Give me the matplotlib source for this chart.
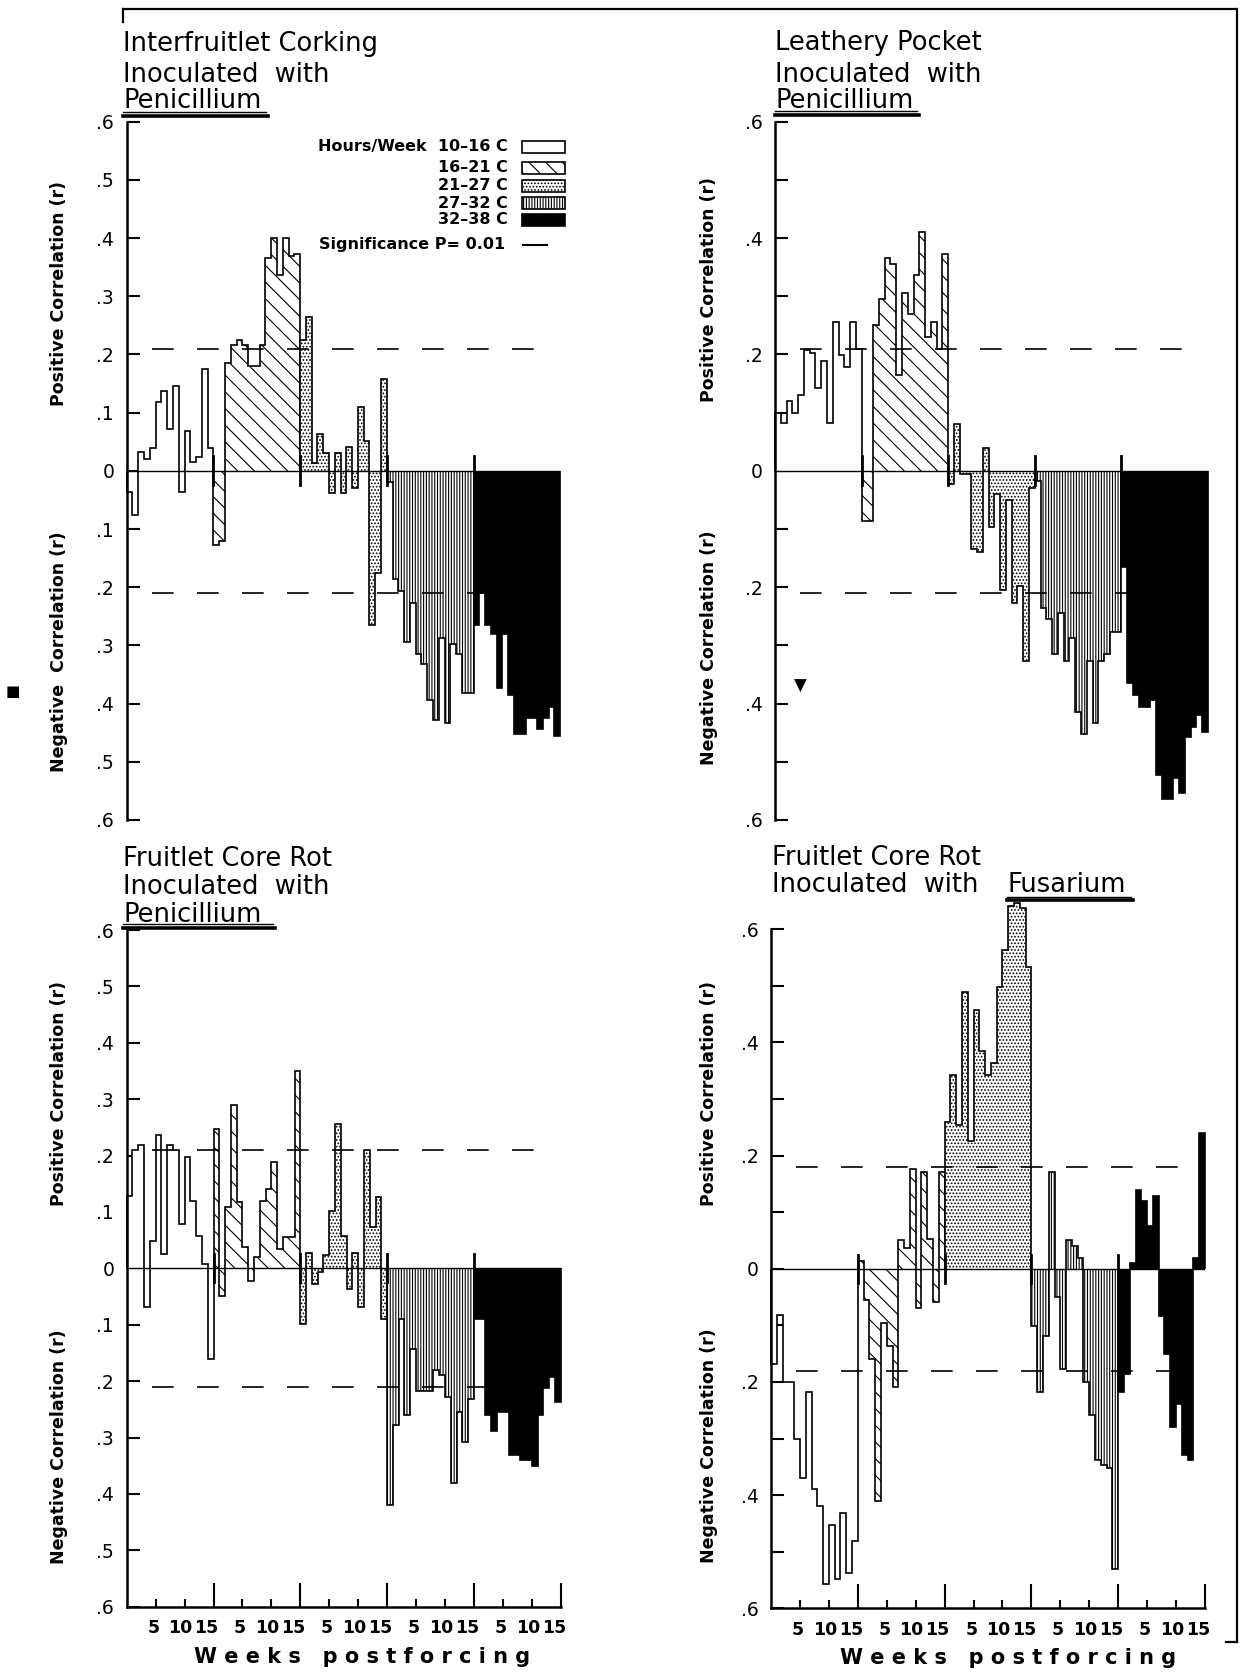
import numpy as np
import matplotlib
matplotlib.use("Agg")
import matplotlib.pyplot as plt
from matplotlib.patches import Rectangle
from matplotlib.lines import Line2D

# ---------------- data ----------------
temperature_classes = ["10\u201316 C", "16\u201321 C", "21\u201327 C", "27\u201332 C", "32\u201338 C"]
weeks_per_class = 15
week_tick_labels = ["5", "10", "15"]
y_ticks = [-0.6, -0.5, -0.4, -0.3, -0.2, -0.1, 0.0, 0.1, 0.2, 0.3, 0.4, 0.5, 0.6]

# Interfruitlet Corking, Penicillium
icp_10_16 = [-0.037, -0.076, 0.032, 0.02, 0.04, 0.118, 0.138, 0.072, 0.145, -0.037, 0.068, 0.015, 0.023, 0.175, 0.04]
icp_16_21 = [-0.128, -0.12, 0.185, 0.216, 0.225, 0.216, 0.18, 0.18, 0.216, 0.365, 0.40, 0.336, 0.40, 0.37, 0.373]
icp_21_27 = [0.225, 0.265, 0.014, 0.063, 0.031, -0.038, 0.03, -0.038, 0.041, -0.029, 0.109, 0.052, -0.265, -0.175, 0.157]
icp_27_32 = [-0.02, -0.186, -0.207, -0.294, -0.227, -0.315, -0.332, -0.393, -0.428, -0.288, -0.434, -0.297, -0.315, -0.382, -0.382]
icp_32_38 = [-0.265, -0.21, -0.265, -0.28, -0.373, -0.28, -0.385, -0.452, -0.452, -0.425, -0.425, -0.443, -0.425, -0.405, -0.455]
icp_sig = 0.21

# Leathery Pocket, Penicillium
lpp_10_16 = [0.10, 0.082, 0.12, 0.10, 0.131, 0.208, 0.202, 0.142, 0.188, 0.083, 0.256, 0.199, 0.179, 0.255, 0.209]
lpp_16_21 = [-0.086, -0.086, 0.25, 0.296, 0.365, 0.356, 0.165, 0.305, 0.27, 0.336, 0.41, 0.23, 0.256, 0.21, 0.373]
lpp_21_27 = [-0.023, 0.08, -0.006, -0.006, -0.134, -0.14, 0.04, -0.096, -0.04, -0.204, -0.05, -0.227, -0.198, -0.326, -0.03]
lpp_27_32 = [-0.017, -0.236, -0.254, -0.315, -0.245, -0.326, -0.288, -0.414, -0.452, -0.326, -0.434, -0.326, -0.315, -0.277, -0.277]
lpp_32_38 = [-0.165, -0.364, -0.385, -0.405, -0.405, -0.393, -0.522, -0.564, -0.564, -0.527, -0.553, -0.457, -0.44, -0.42, -0.448]
lpp_sig = 0.21

# Fruitlet Core Rot, Penicillium
fcp_10_16 = [0.129, 0.209, 0.219, -0.069, 0.049, 0.237, 0.025, 0.218, 0.209, 0.079, 0.197, 0.12, 0.058, 0.008, -0.16]
fcp_16_21 = [0.247, -0.049, 0.108, 0.289, 0.117, 0.037, -0.022, 0.02, 0.12, 0.141, 0.188, 0.034, 0.055, 0.055, 0.35]
fcp_21_27 = [-0.099, 0.028, -0.028, -0.007, 0.024, 0.102, 0.256, 0.058, -0.037, 0.028, -0.069, 0.209, 0.073, 0.126, -0.09]
fcp_27_32 = [-0.42, -0.278, -0.09, -0.26, -0.143, -0.218, -0.218, -0.218, -0.181, -0.19, -0.228, -0.38, -0.255, -0.308, -0.231]
fcp_32_38 = [-0.09, -0.09, -0.26, -0.288, -0.255, -0.255, -0.331, -0.331, -0.34, -0.34, -0.35, -0.26, -0.213, -0.193, -0.237]
fcp_sig = 0.21

# Fruitlet Core Rot, Fusarium
fcf_10_16 = [-0.168, -0.081, -0.2, -0.2, -0.30, -0.37, -0.218, -0.39, -0.42, -0.557, -0.452, -0.548, -0.431, -0.537, -0.481]
fcf_16_21 = [0.013, -0.055, -0.16, -0.411, -0.095, -0.136, -0.209, 0.051, 0.037, 0.177, -0.07, 0.171, 0.052, -0.058, 0.171]
fcf_21_27 = [0.26, 0.343, 0.254, 0.49, 0.225, 0.457, 0.385, 0.343, 0.364, 0.498, 0.564, 0.641, 0.647, 0.638, 0.534]
fcf_27_32 = [-0.101, -0.218, -0.119, 0.171, -0.05, -0.177, 0.051, 0.04, 0.019, -0.2, -0.259, -0.338, -0.347, -0.352, -0.531]
fcf_32_38 = [-0.218, -0.186, 0.01, 0.14, 0.12, 0.076, 0.129, -0.084, -0.151, -0.279, -0.239, -0.329, -0.338, 0.019, 0.24]
fcf_sig = 0.18

# ---------------- figure ----------------
W, H, DPI = 1248, 1672, 100
plt.rcParams["font.family"] = ["DejaVu Sans"]
plt.rcParams["hatch.linewidth"] = 0.8
fig = plt.figure(figsize=(W / DPI, H / DPI), dpi=DPI)

def ftext(x, y, s, **kw):
    return fig.text(x / W, 1 - y / H, s, **kw)

def fline(xs, ys, **kw):
    fig.add_artist(Line2D([x / W for x in xs], [1 - y / H for y in ys], **kw))

def rect(x0, ytop, x1, ybot):
    return [x0 / W, 1 - ybot / H, (x1 - x0) / W, (ybot - ytop) / H]

HATCHES = [None, "\\\\", ".....", "||||||", None]
FACES = ["white", "white", "white", "white", "black"]

panels = [
    dict(groups=[icp_10_16, icp_16_21, icp_21_27, icp_27_32, icp_32_38], sig=icp_sig,
         box=(126.7, 121.7, 560.2, 820), every_label=True, xaxis=False),
    dict(groups=[lpp_10_16, lpp_16_21, lpp_21_27, lpp_27_32, lpp_32_38], sig=lpp_sig,
         box=(775, 121.7, 1208, 820), every_label=False, xaxis=False),
    dict(groups=[fcp_10_16, fcp_16_21, fcp_21_27, fcp_27_32, fcp_32_38], sig=fcp_sig,
         box=(126.7, 930, 560.7, 1606.7), every_label=True, xaxis=True),
    dict(groups=[fcf_10_16, fcf_16_21, fcf_21_27, fcf_27_32, fcf_32_38], sig=fcf_sig,
         box=(771, 929.3, 1205, 1608.3), every_label=False, xaxis=True),
]

total = weeks_per_class * len(temperature_classes)

def ylab(v):
    if abs(v) < 1e-9:
        return "0"
    return "." + str(int(round(abs(v) * 10)))

for p in panels:
    ax = fig.add_axes(rect(*p["box"]))
    ax.set_xlim(0, total)
    ax.set_ylim(-0.6, 0.6)
    for s in ["top", "right"]:
        ax.spines[s].set_visible(False)
    ax.spines["left"].set_linewidth(1.8)
    for g, vals in enumerate(p["groups"]):
        edges = np.arange(len(vals) + 1) + g * weeks_per_class
        ax.stairs(vals, edges, baseline=0, fill=True, facecolor=FACES[g],
                  edgecolor="black", hatch=HATCHES[g], linewidth=1.2, zorder=2, clip_on=False)
    ax.plot([0, total], [0, 0], color="black", lw=1.0, zorder=3)
    for b in range(1, len(temperature_classes)):
        ax.plot([b * weeks_per_class] * 2, [-0.025, 0.025], color="black", lw=2.0, zorder=4)
    for s in (p["sig"], -p["sig"]):
        ax.plot([4.3, 73.5], [s, s], color="black", lw=1.2, linestyle=(0, (13, 14)), zorder=5)

    ax.set_yticks(y_ticks)
    if p["every_label"]:
        ax.set_yticklabels([ylab(v) for v in y_ticks])
    else:
        ax.set_yticklabels([ylab(v) if int(round(v * 10)) % 2 == 0 else "" for v in y_ticks])
    ax.tick_params(axis="y", direction="in", length=9, width=1.5, pad=9, labelsize=13.5)

    if p["xaxis"]:
        ax.spines["bottom"].set_linewidth(1.8)
        major = [weeks_per_class * (g + 1) for g in range(len(temperature_classes))]
        minor = [g * weeks_per_class + k for g in range(len(temperature_classes)) for k in (5, 10)]
        ax.set_xticks(major)
        ax.set_xticks(minor, minor=True)
        ax.tick_params(axis="x", which="major", direction="in", length=17, width=1.5, labelbottom=False)
        ax.tick_params(axis="x", which="minor", direction="in", length=6, width=1.5, labelbottom=False)
        for g in range(len(temperature_classes)):
            for lab, off in zip(week_tick_labels, (4.6, 9.3, 13.8)):
                ax.text(g * weeks_per_class + off, -0.032, lab, transform=ax.get_xaxis_transform(),
                        ha="center", va="center", fontsize=12.5, fontweight="bold")
    else:
        ax.spines["bottom"].set_visible(False)
        ax.set_xticks([])

# ---------------- titles ----------------
TS = 18.5
ftext(123, 51, "Interfruitlet Corking", fontsize=TS, va="baseline")
ftext(123, 81.5, "Inoculated  with", fontsize=TS, va="baseline")
ftext(123, 108, "Penicillium", fontsize=TS, va="baseline")
fline([123, 266], [111.5, 111.5], color="black", lw=1.0)
fline([123, 268], [115.5, 115.5], color="black", lw=2.6)

ftext(775, 50.5, "Leathery Pocket", fontsize=TS, va="baseline")
ftext(775, 81.5, "Inoculated  with", fontsize=TS, va="baseline")
ftext(775, 108, "Penicillium", fontsize=TS, va="baseline")
fline([775, 917], [111, 111], color="black", lw=1.0)
fline([775, 919], [115, 115], color="black", lw=2.6)

ftext(123, 866, "Fruitlet Core Rot", fontsize=TS, va="baseline")
ftext(123, 893.5, "Inoculated  with", fontsize=TS, va="baseline")
ftext(123, 921.5, "Penicillium", fontsize=TS, va="baseline")
fline([123, 273], [924, 924], color="black", lw=1.0)
fline([123, 275], [927.5, 927.5], color="black", lw=2.6)

ftext(771.5, 865, "Fruitlet Core Rot", fontsize=TS, va="baseline")
ftext(771.5, 892.5, "Inoculated  with", fontsize=TS, va="baseline")
ftext(1007, 892.5, "Fusarium", fontsize=TS, va="baseline")
fline([1007, 1131], [896.5, 896.5], color="black", lw=1.0)
fline([1007, 1133], [900, 900], color="black", lw=2.6)

# ---------------- axis titles ----------------
YL = dict(rotation=90, ha="center", va="center", fontsize=12.5, fontweight="bold")
ftext(59, 294, "Positive Correlation (r)", **YL)
ftext(59, 652, "Negative  Correlation (r)", **YL)
ftext(709, 290, "Positive Correlation (r)", **YL)
ftext(709, 648, "Negative Correlation (r)", **YL)
ftext(59, 1093, "Positive Correlation (r)", **YL)
ftext(59, 1447, "Negative Correlation (r)", **YL)
ftext(709, 1093, "Positive Correlation (r)", **YL)
ftext(709, 1446, "Negative Correlation (r)", **YL)

XL = dict(ha="center", va="center", fontsize=15, fontweight="bold")
ftext(362, 1657, "W e e k s   p o s t f o r c i n g", **XL)
ftext(1008, 1658, "W e e k s   p o s t f o r c i n g", **XL)

# ---------------- legend (panel 1) ----------------
leg_y = [146.7, 167.7, 185.7, 203.3, 220.0]
LG = dict(ha="right", va="center", fontsize=11.5, fontweight="bold")
ftext(508, leg_y[0], "Hours/Week  " + temperature_classes[0], **LG)
for yy, lab in zip(leg_y[1:], temperature_classes[1:]):
    ftext(508, yy, lab, **LG)
for g, yy in enumerate(leg_y):
    r = Rectangle(((521.7) / W, 1 - (yy + 6) / H), 43 / W, 12 / H, transform=fig.transFigure,
                  facecolor=FACES[g], edgecolor="black", hatch=HATCHES[g], linewidth=1.2)
    fig.add_artist(r)
ftext(505, 245, "Significance P= 0.01", **LG)
fline([523, 547], [245, 245], color="black", lw=1.5)

# ---------------- marks and frame ----------------
ftext(13, 691, "\u25a0", ha="center", va="center", fontsize=11)
ftext(800, 686, "\u25bc", ha="center", va="center", fontsize=12)
fline([123, 1236], [9, 9], color="black", lw=1.6)
fline([123, 123], [9, 22], color="black", lw=1.6)
fline([1237, 1237], [9, 1642], color="black", lw=1.6)
fline([1226, 1237], [1642, 1642], color="black", lw=1.6)

fig.savefig("out.png", dpi=DPI)
